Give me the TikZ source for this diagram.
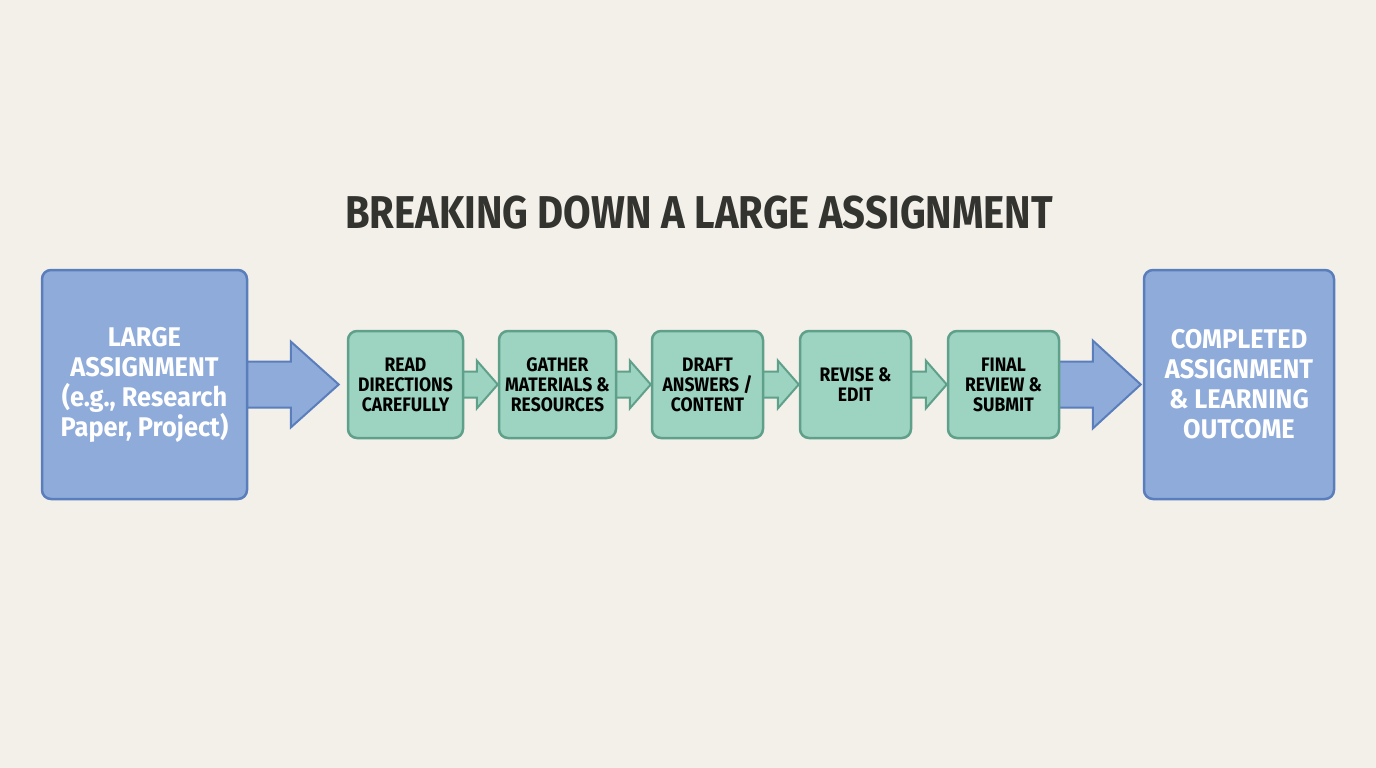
\documentclass[tikz,border=0pt]{standalone}
\usepackage{fontspec}
\setmainfont{Fira Sans}
\newfontfamily\titlefont{Fira Sans}[FakeStretch=0.87]
\newfontfamily\bigfont{Fira Sans}[FakeStretch=0.94]
\newfontfamily\stepfont{Fira Sans}[FakeStretch=0.90]
\usetikzlibrary{calc}
\pgfdeclarelayer{back}
\pgfsetlayers{back,main}
\definecolor{bgc}{HTML}{F3F0EA}
\definecolor{bluefill}{HTML}{8EABDA}
\definecolor{blueline}{HTML}{5A7EBB}
\definecolor{greenfill}{HTML}{9DD4C1}
\definecolor{greenline}{HTML}{5FA08B}
\definecolor{titlec}{HTML}{333330}
\tikzset{
  bigbox/.style={draw=blueline, fill=bluefill, line width=2.5pt, rounded corners=9pt,
    text=white, font=\bigfont\fontsize{27}{30}\selectfont\bfseries, align=center, inner sep=0pt},
  stepbox/.style={draw=greenline, fill=greenfill, line width=2.5pt, rounded corners=9pt,
    text=black, font=\stepfont\fontsize{19.5}{20}\selectfont\bfseries, align=center, inner sep=0pt},
  bluearrow/.style={draw=blueline, fill=bluefill, line width=2pt, line join=miter},
  greenarrow/.style={draw=greenline, fill=greenfill, line width=2pt, line join=miter},
}
\newcommand\blockarr[6]{% style, from, to, shaft half, head half, head length
  \draw[#1] let \p1=(#2.east), \p2=(#3.west) in
    (\x1-2,\y2+#4) -- (\x2-#6,\y2+#4) -- (\x2-#6,\y2+#5) -- (\x2,\y2)
    -- (\x2-#6,\y2-#5) -- (\x2-#6,\y2-#4) -- (\x1-2,\y2-#4);}
\begin{document}
\begin{tikzpicture}[x=1pt,y=-1pt]
\begin{pgfonlayer}{back}
\fill[bgc] (0,0) rectangle (1376,768);
\end{pgfonlayer}
\useasboundingbox (0,0) rectangle (1376,768);
\node[text=titlec, font=\titlefont\fontsize{46}{46}\selectfont\bfseries] (title) at (699,213) {BREAKING DOWN A LARGE ASSIGNMENT};
\node[bigbox, minimum width=205pt, minimum height=229pt] (large) at (144.5,384.5) {LARGE\\ASSIGNMENT\\(e.g., Research\\Paper, Project)};
\node[stepbox, minimum width=115pt, minimum height=107pt] (s1) at (405.5,384.5) {READ\\DIRECTIONS\\CAREFULLY};
\node[stepbox, minimum width=117pt, minimum height=107pt] (s2) at (557.5,384.5) {GATHER\\MATERIALS \&\\RESOURCES};
\node[stepbox, minimum width=111pt, minimum height=107pt] (s3) at (707.5,384.5) {DRAFT\\ANSWERS /\\CONTENT};
\node[stepbox, minimum width=111pt, minimum height=107pt] (s4) at (855.5,384.5) {REVISE \&\\EDIT};
\node[stepbox, minimum width=111pt, minimum height=107pt] (s5) at (1003.5,384.5) {FINAL\\REVIEW \&\\SUBMIT};
\node[bigbox, minimum width=190pt, minimum height=229pt] (done) at (1239,384.5) {COMPLETED\\ASSIGNMENT\\\& LEARNING\\OUTCOME};
\coordinate (ltipn) at ($(s1.west)+(-8,0)$);
\coordinate (rtipn) at ($(done.west)+(-2,0)$);
\begin{pgfonlayer}{back}
\blockarr{bluearrow}{large}{ltipn}{23}{43}{48}
\blockarr{bluearrow}{s5}{rtipn}{23}{44}{48}
\blockarr{greenarrow}{s1}{s2}{13}{24}{21}
\blockarr{greenarrow}{s2}{s3}{13}{24}{21}
\blockarr{greenarrow}{s3}{s4}{13}{24}{21}
\blockarr{greenarrow}{s4}{s5}{13}{24}{21}
\end{pgfonlayer}
\end{tikzpicture}
\end{document}
